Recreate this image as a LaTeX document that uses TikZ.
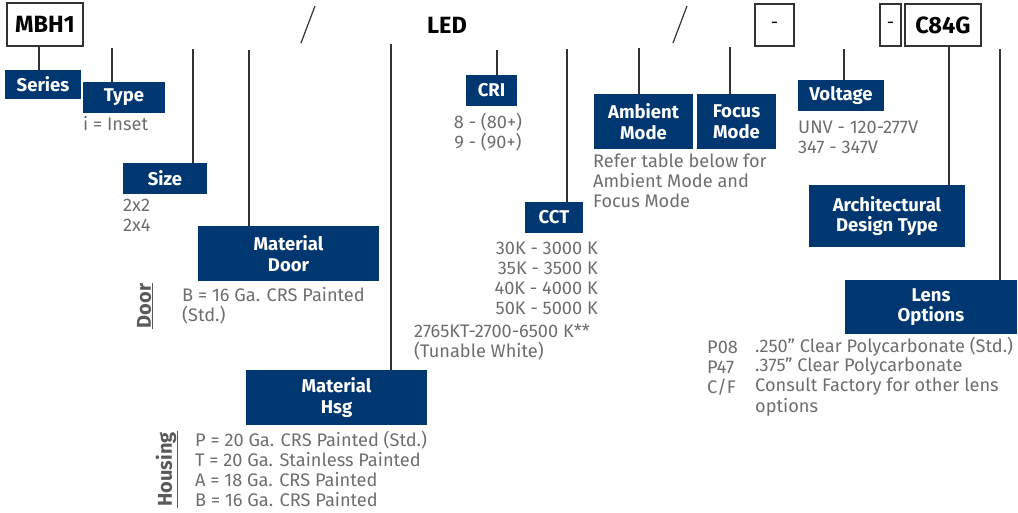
\documentclass[tikz,border=0pt]{standalone}
\usepackage{fontspec}
\setmainfont{Fira Sans}
\definecolor{navy}{HTML}{003770}
\definecolor{optgray}{HTML}{6E6E6E}
\definecolor{lblgray}{HTML}{5A5A5A}
\definecolor{leadgray}{HTML}{333333}
\tikzset{
  cat/.style={fill=navy, text=white, inner sep=0pt, align=center,
    font=\fontsize{18.5}{20.5}\selectfont\bfseries},
  code/.style={draw=leadgray, line width=1.3pt, inner sep=0pt, text=black,
    font=\fontsize{23.5}{26}\selectfont\bfseries},
  opt/.style={text=optgray, inner sep=0pt, align=left, anchor=west,
    font=\fontsize{18.2}{20}\selectfont},
  side/.style={text=lblgray, inner sep=1pt, rotate=90,
    font=\fontsize{20}{22}\selectfont\bfseries},
  lead/.style={draw=leadgray, line width=1.2pt},
}
\begin{document}
\begin{tikzpicture}[x=1pt,y=-1pt]
\useasboundingbox (0,0) rectangle (1018,512);
% code boxes
\node[code, minimum width=76, minimum height=43] (mbh) at (45,24.5) {MBH1};
\node[text=black, inner sep=0pt, font=\fontsize{23.5}{26}\selectfont\bfseries] (led) at (447,25) {LED};
\node[code, minimum width=39, minimum height=42, font=\fontsize{18}{20}\selectfont] (d1) at (774.5,25) {-};
\node[code, minimum width=21, minimum height=42, font=\fontsize{18}{20}\selectfont] (d2) at (890.5,25) {-};
\node[code, minimum width=76, minimum height=42] (c84) at (943,25) {C84G};
\coordinate (s1a) at (301,43);
\coordinate (s1b) at (315,6);
\coordinate (s2a) at (673,43);
\coordinate (s2b) at (687,6);
\draw[lead] (s1a) -- (s1b);
\draw[lead] (s2a) -- (s2b);
% category boxes
\node[cat, minimum width=76, minimum height=29] (series) at (43,84.5) {Series};
\node[cat, minimum width=82, minimum height=31] (type) at (124,97.5) {Type};
\node[cat, minimum width=84, minimum height=31] (size) at (165,178.5) {Size};
\node[cat, minimum width=181, minimum height=55] (door) at (288.5,253.5) {Material\\Door};
\node[cat, minimum width=181, minimum height=55] (hsg) at (336.5,397.5) {Material\\Hsg};
\node[cat, minimum width=51, minimum height=31] (cri) at (491.5,90.5) {CRI};
\node[cat, minimum width=58, minimum height=31] (cct) at (554,217.5) {CCT};
\node[cat, minimum width=99, minimum height=55] (amb) at (643.5,121.5) {Ambient\\Mode};
\node[cat, minimum width=79, minimum height=55] (foc) at (736.5,121.5) {Focus\\Mode};
\node[cat, minimum width=86, minimum height=31] (volt) at (841,95.5) {Voltage};
\node[cat, minimum width=156, minimum height=62] (arch) at (887,216) {Architectural\\Design Type};
\node[cat, minimum width=172, minimum height=54] (lens) at (931,307) {Lens\\Options};
% leader tops
\coordinate (tSeries) at (39,46);
\coordinate (tType) at (112,48);
\coordinate (tSize) at (193,49);
\coordinate (tDoor) at (249,50);
\coordinate (tHsg) at (391,44);
\coordinate (tCri) at (497,50);
\coordinate (tCct) at (567,49);
\coordinate (tAmb) at (639,48);
\coordinate (tFoc) at (730,47);
\coordinate (tVolt) at (844,49);
\coordinate (tArch) at (949,46);
\coordinate (tLens) at (1000,49);
\draw[lead] (tSeries) -- (tSeries |- series.north);
\draw[lead] (tType) -- (tType |- type.north);
\draw[lead] (tSize) -- (tSize |- size.north);
\draw[lead] (tDoor) -- (tDoor |- door.north);
\draw[lead] (tHsg) -- (tHsg |- hsg.north);
\draw[lead] (tCri) -- (tCri |- cri.north);
\draw[lead] (tCct) -- (tCct |- cct.north);
\draw[lead] (tAmb) -- (tAmb |- amb.north);
\draw[lead] (tFoc) -- (tFoc |- foc.north);
\draw[lead] (tVolt) -- (tVolt |- volt.north);
\draw[lead] (tArch) -- (tArch |- arch.north);
\draw[lead] (tLens) -- (tLens |- lens.north);
% option texts
\node[opt] (oType) at (83,124) {i = Inset};
\node[opt] (oSize1) at (123,205) {2x2};
\node[opt] (oSize2) at (123,225) {2x4};
\node[opt] (oDoor1) at (182,295) {B = 16 Ga. CRS Painted};
\node[opt] (oDoor2) at (182,315) {(Std.)};
\node[opt] (oH1) at (195,440) {P = 20 Ga. CRS Painted (Std.)};
\node[opt] (oH2) at (195,460) {T = 20 Ga. Stainless Painted};
\node[opt] (oH3) at (195,480) {A = 18 Ga. CRS Painted};
\node[opt] (oH4) at (195,500) {B = 16 Ga. CRS Painted};
\node[opt, anchor=center] (oCri1) at (488,122) {8 - (80+)};
\node[opt, anchor=center] (oCri2) at (488,142) {9 - (90+)};
\node[opt, anchor=east] (oC1) at (598,248) {30K - 3000 K};
\node[opt, anchor=east] (oC2) at (598,268) {35K - 3500 K};
\node[opt, anchor=east] (oC3) at (598,288) {40K - 4000 K};
\node[opt, anchor=east] (oC4) at (598,308) {50K - 5000 K};
\node[opt] (oC5) at (414,331) {2765KT-2700-6500 K**};
\node[opt] (oC6) at (414,351) {(Tunable White)};
\node[opt] (oR1) at (593,161) {Refer table below for};
\node[opt] (oR2) at (593,181) {Ambient Mode and};
\node[opt] (oR3) at (593,201) {Focus Mode};
\node[opt] (oV1) at (798,127) {UNV - 120-277V};
\node[opt] (oV2) at (798,147) {347 - 347V};
\node[opt] (oL1a) at (707,347) {P08};
\node[opt] (oL2a) at (707,367) {P47};
\node[opt] (oL3a) at (707,387) {C/F};
\node[opt] (oL1b) at (755,347) {.250” Clear Polycarbonate (Std.)};
\node[opt] (oL2b) at (755,367) {.375” Clear Polycarbonate};
\node[opt] (oL3b) at (755,387) {Consult Factory for other lens};
\node[opt] (oL4b) at (755,407) {options};
% side labels
\node[side] (sDoor) at (144,306) {Door};
\draw[draw=lblgray, line width=1pt] (sDoor.south west) -- (sDoor.south east);
\node[side] (sHsg) at (166,469.5) {Housing};
\draw[draw=lblgray, line width=1pt] (sHsg.south west) -- (sHsg.south east);
\end{tikzpicture}
\end{document}
